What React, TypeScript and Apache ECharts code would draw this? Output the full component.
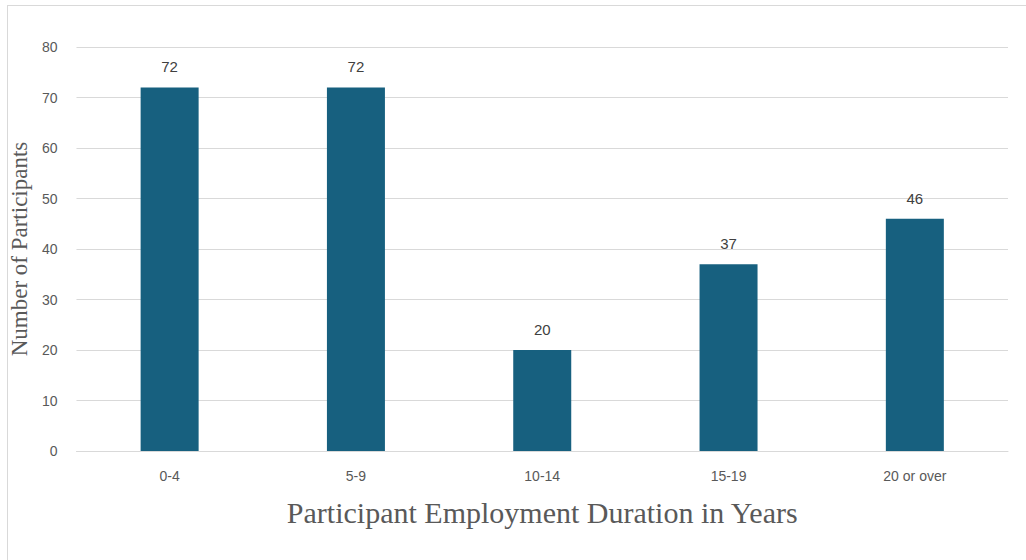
import React, { useEffect, useRef } from "react";
import * as echarts from "echarts";

const categories = ["0-4", "5-9", "10-14", "15-19", "20 or over"];
const participants = [72, 72, 20, 37, 46];
const yTicks = { min: 0, max: 80, interval: 10 };
const xTitle = "Participant Employment Duration in Years";
const yTitle = "Number of Participants";

export default function App() {
  const ref = useRef<HTMLDivElement>(null);
  useEffect(() => {
    if (!ref.current) return;
    const chart = echarts.init(ref.current, null, { renderer: "svg" });
    chart.setOption({
      animation: false,
      backgroundColor: "#ffffff",
      grid: { left: 76, right: 18, top: 47, bottom: 109, containLabel: false },
      graphic: [
        { type: "line", shape: { x1: 7, y1: 5.5, x2: 1026, y2: 5.5 }, style: { stroke: "#d9d9d9", lineWidth: 1 } },
        { type: "line", shape: { x1: 7.5, y1: 5, x2: 7.5, y2: 560 }, style: { stroke: "#d9d9d9", lineWidth: 1 } },
      ],
      xAxis: {
        type: "category",
        data: categories,
        name: xTitle,
        nameLocation: "middle",
        nameGap: 46,
        nameTextStyle: { fontFamily: "Liberation Serif", fontSize: 30, color: "#595959" },
        axisLine: { show: true, lineStyle: { color: "#d9d9d9", width: 1 } },
        axisTick: { show: false },
        axisLabel: { fontFamily: "Liberation Sans", fontSize: 14, color: "#595959", margin: 18 },
      },
      yAxis: {
        type: "value",
        min: yTicks.min,
        max: yTicks.max,
        interval: yTicks.interval,
        name: yTitle,
        nameLocation: "middle",
        nameGap: 38,
        nameRotate: 90,
        nameTextStyle: { fontFamily: "Liberation Serif", fontSize: 23, color: "#595959" },
        axisLine: { show: false },
        axisTick: { show: false },
        splitLine: { lineStyle: { color: "#d9d9d9", width: 1 } },
        axisLabel: { fontFamily: "Liberation Sans", fontSize: 14, color: "#595959", margin: 19 },
      },
      series: [
        {
          type: "bar",
          data: participants,
          barWidth: 58,
          itemStyle: { color: "#17607f" },
          label: {
            show: true,
            position: "top",
            distance: 13,
            fontFamily: "Liberation Sans",
            fontSize: 15,
            color: "#404040",
          },
        },
      ],
    });
    return () => chart.dispose();
  }, []);
  return (
    <div
      ref={ref}
      style={{ position: "fixed", left: 0, top: 0, width: 1026, height: 560 }}
    />
  );
}
